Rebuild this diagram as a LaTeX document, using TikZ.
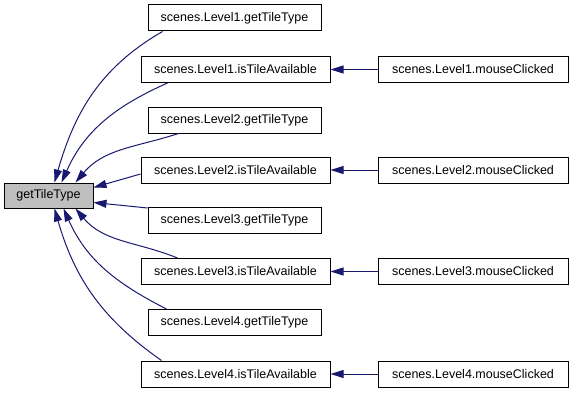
\documentclass[tikz,border=0pt]{standalone}
\usepackage{fontspec}
\setmainfont{Liberation Sans}
\usepackage{xcolor}
\usetikzlibrary{arrows.meta}

\definecolor{edgeblue}{HTML}{191970}
\definecolor{boxgray}{HTML}{BFBFBF}

\begin{document}
\begin{tikzpicture}[x=1pt,y=1pt,>={Triangle[length=13pt,width=8pt]},
    func/.style={draw, line width=1pt, inner sep=0pt, minimum height=26pt,
                 font=\fontsize{12.5}{15}\selectfont},
    call/.style={->, draw=edgeblue, line width=1pt}]

    \useasboundingbox (0,0) rectangle (575,392);

    % -- The called function on the left --
    \node[func, fill=boxgray, minimum width=89pt, minimum height=25pt]
        (tile) at (48.5,196.5) {getTileType};

    % -- Callers in the middle column --
    \node[func, minimum width=173pt] (get1)   at (234.5,374)   {scenes.Level1.getTileType};
    \node[func, minimum width=189pt] (avail1) at (235.5,322.5) {scenes.Level1.isTileAvailable};
    \node[func, minimum width=173pt] (get2)   at (234.5,272)   {scenes.Level2.getTileType};
    \node[func, minimum width=189pt] (avail2) at (235.5,222)   {scenes.Level2.isTileAvailable};
    \node[func, minimum width=173pt] (get3)   at (234.5,171.5) {scenes.Level3.getTileType};
    \node[func, minimum width=189pt] (avail3) at (235.5,120.5) {scenes.Level3.isTileAvailable};
    \node[func, minimum width=173pt] (get4)   at (234.5,69.5)  {scenes.Level4.getTileType};
    \node[func, minimum width=189pt] (avail4) at (235.5,18)    {scenes.Level4.isTileAvailable};

    % -- Mouse handlers on the right --
    \node[func, minimum width=190pt] (click1) at (473,322.5) {scenes.Level1.mouseClicked};
    \node[func, minimum width=190pt] (click2) at (473,222)   {scenes.Level2.mouseClicked};
    \node[func, minimum width=190pt] (click3) at (473,120.5) {scenes.Level3.mouseClicked};
    \node[func, minimum width=190pt] (click4) at (473,18)    {scenes.Level4.mouseClicked};

    % -- Calls into getTileType --
    % from above
    \draw[call] ([xshift=15pt]get1.south west)   to[out=210,in=74] ([xshift=51pt]tile.north west);
    \draw[call] ([xshift=27pt]avail1.south west) to[out=204,in=66] ([xshift=58pt]tile.north west);
    \draw[call] ([xshift=31pt]get2.south west)   to[out=198,in=50] ([xshift=72pt]tile.north west);
    % from the side
    \draw[call] ([yshift=-4pt]avail2.west) -- ([yshift=8pt]tile.east);
    \draw[call] ([yshift=-1pt]get3.north west) -- ([yshift=-7pt]tile.east);
    % from below
    \draw[call] ([xshift=37pt]avail3.north west) to[out=158,in=-50] ([xshift=72pt]tile.south west);
    \draw[call] ([xshift=19pt]get4.north west)   to[out=153,in=-66] ([xshift=60pt]tile.south west);
    \draw[call] ([xshift=21pt]avail4.north west) to[out=145,in=-74] ([xshift=51pt]tile.south west);

    % -- Calls into isTileAvailable --
    \draw[call] (click1) -- (avail1);
    \draw[call] (click2) -- (avail2);
    \draw[call] (click3) -- (avail3);
    \draw[call] (click4) -- (avail4);

\end{tikzpicture}
\end{document}
